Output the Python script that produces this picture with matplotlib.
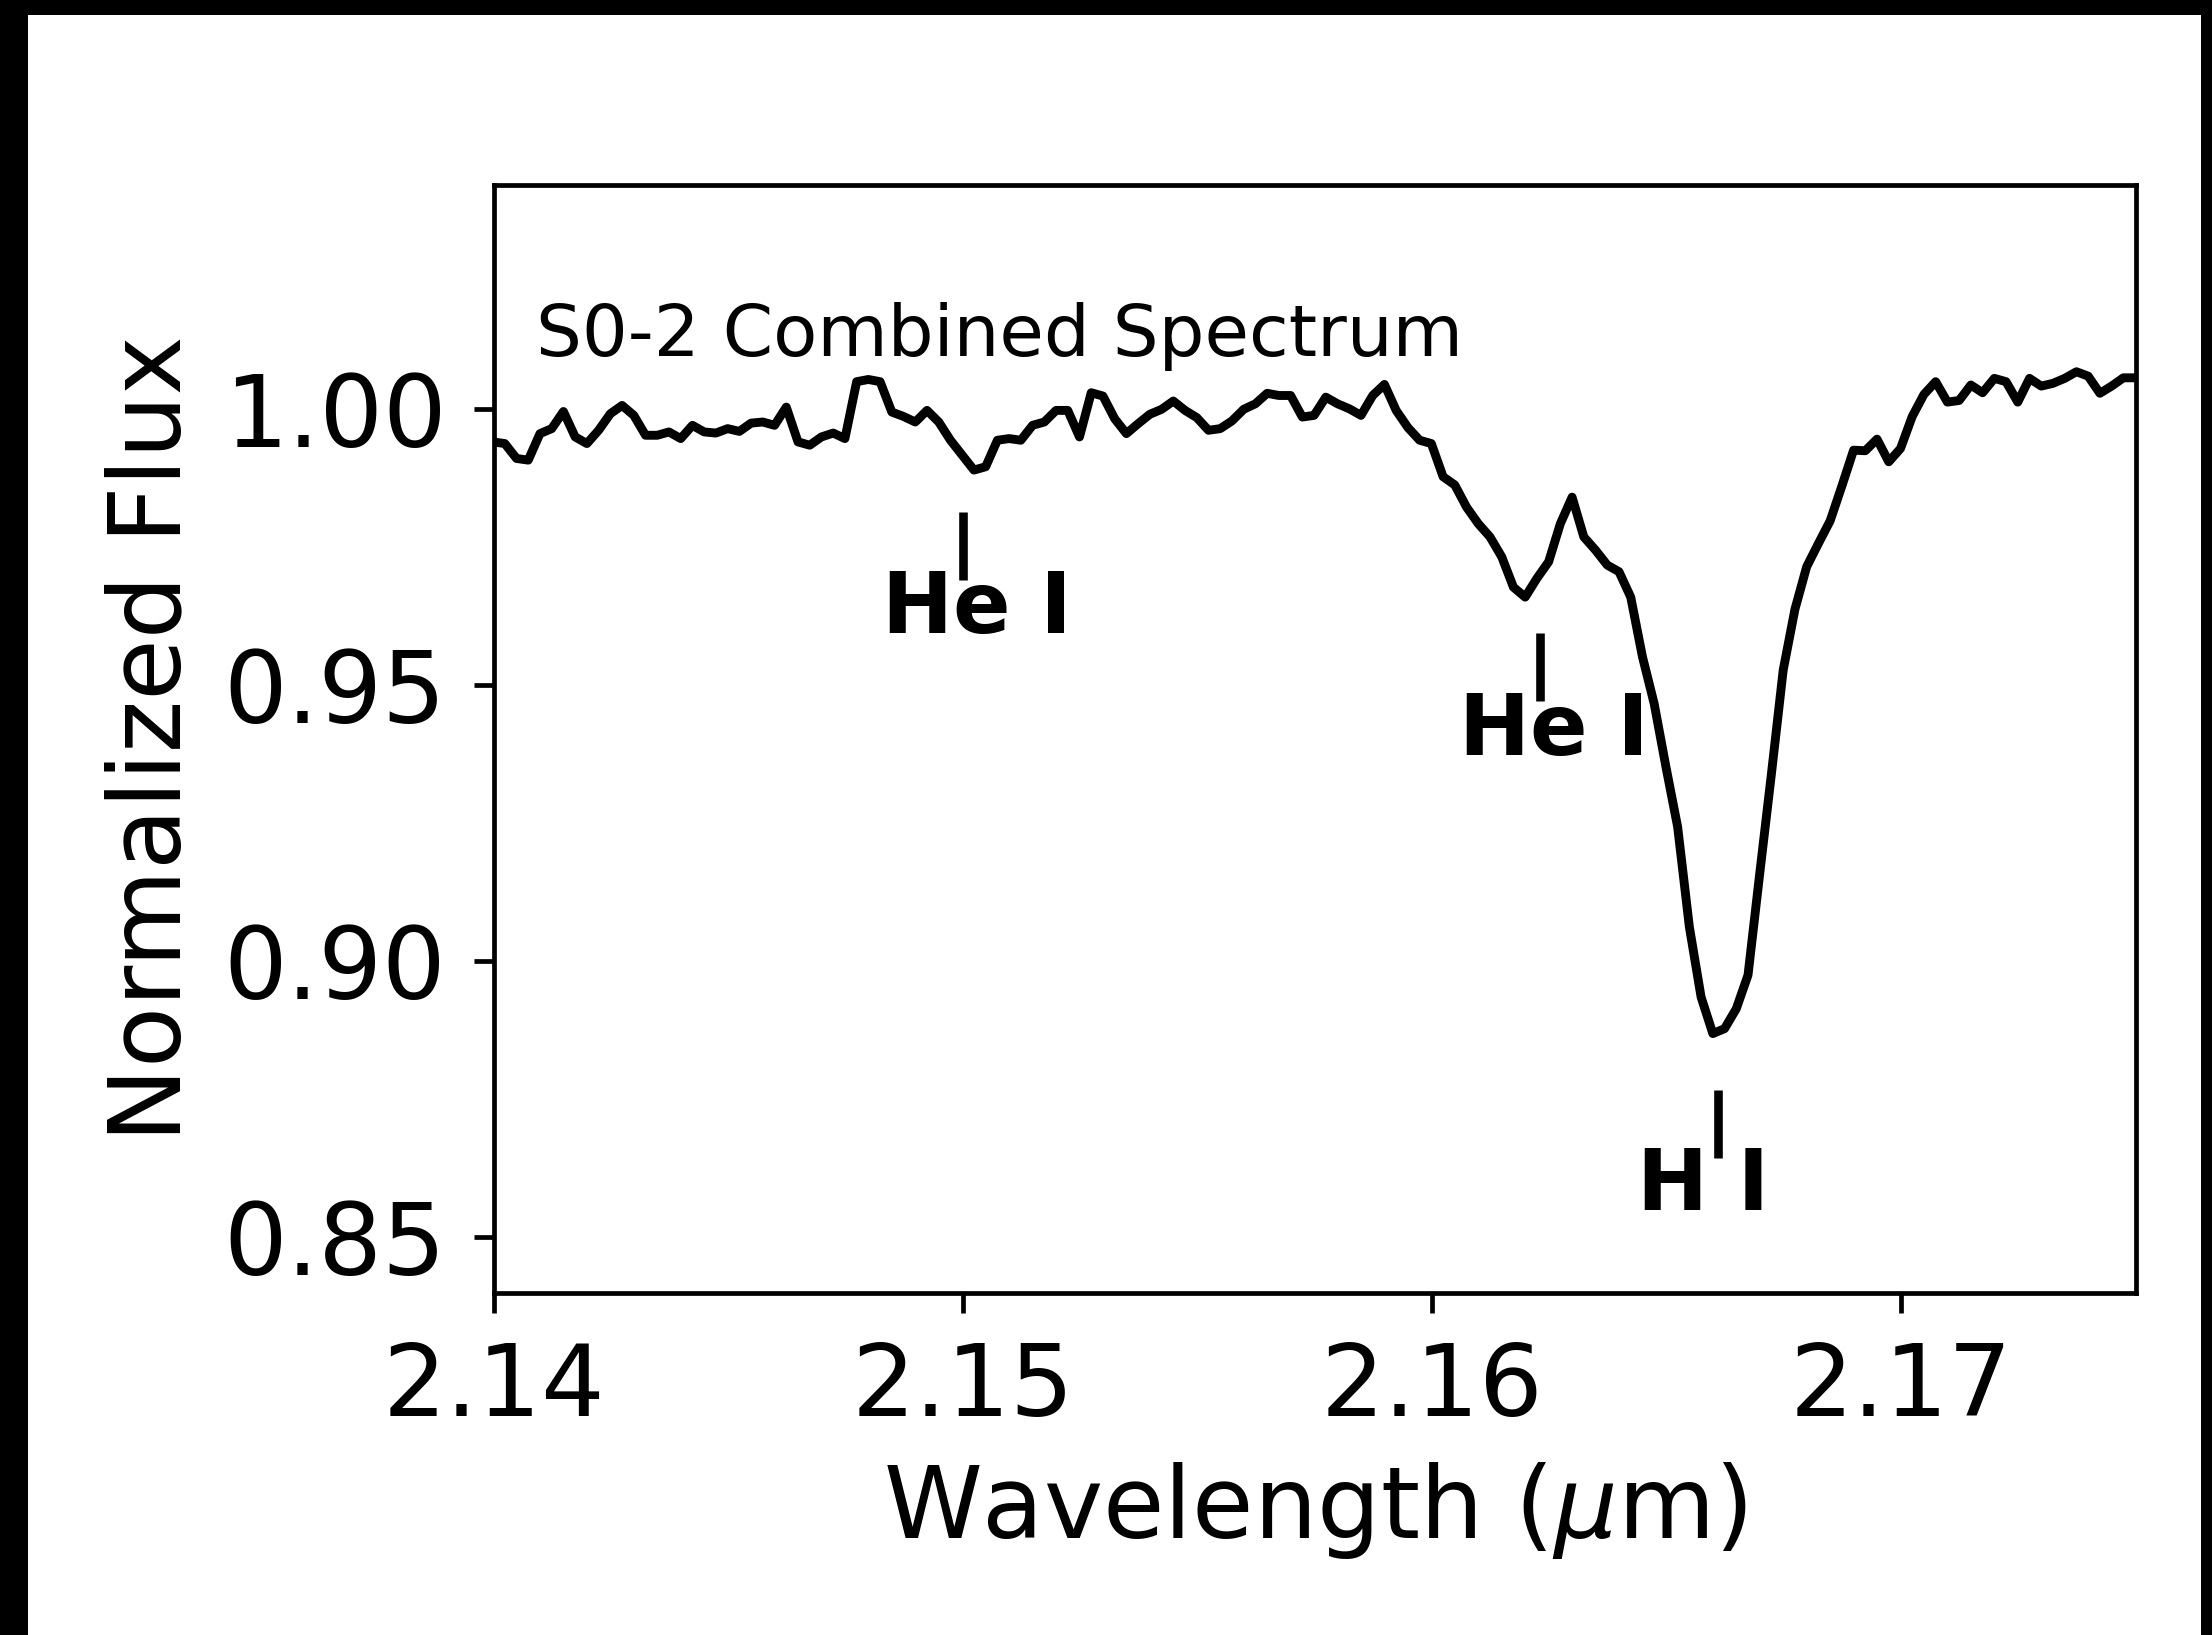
import numpy as np
import matplotlib
matplotlib.use("Agg")
import matplotlib.pyplot as plt
from matplotlib.patches import Rectangle

# ---- data ----
wave_start = 2.13998   # first channel (micron)
wave_step = 0.00025    # channel width (micron)
flux = [
    0.9940, 0.9937, 0.9910, 0.9907, 0.9955, 0.9964, 0.9995, 0.9949, 0.9937, 0.9961,
    0.9991, 1.0006, 0.9988, 0.9952, 0.9952, 0.9958, 0.9946, 0.9970, 0.9958, 0.9956,
    0.9964, 0.9959, 0.9974, 0.9976, 0.9970, 1.0003, 0.9940, 0.9934, 0.9949, 0.9956,
    0.9946, 1.0049, 1.0053, 1.0049, 0.9994, 0.9986, 0.9976, 0.9997, 0.9976, 0.9943,
    0.9916, 0.9889, 0.9895, 0.9943, 0.9946, 0.9943, 0.9970, 0.9976, 0.9997, 0.9997,
    0.9949, 1.0029, 1.0023, 0.9982, 0.9955, 0.9973, 0.9990, 0.9999, 1.0014, 0.9997,
    0.9984, 0.9961, 0.9964, 0.9978, 0.9999, 1.0009, 1.0028, 1.0024, 1.0024, 0.9985,
    0.9988, 1.0021, 1.0009, 1.0000, 0.9988, 1.0024, 1.0044, 0.9997, 0.9966, 0.9943,
    0.9937, 0.9877, 0.9862, 0.9822, 0.9792, 0.9768, 0.9732, 0.9677, 0.9659, 0.9693,
    0.9723, 0.9792, 0.9840, 0.9768, 0.9744, 0.9717, 0.9705, 0.9659, 0.9551, 0.9466,
    0.9352, 0.9243, 0.9062, 0.8935, 0.8869, 0.8878, 0.8914, 0.8975, 0.9159, 0.9340,
    0.9527, 0.9637, 0.9714, 0.9756, 0.9797, 0.9860, 0.9925, 0.9924, 0.9945, 0.9904,
    0.9928, 0.9986, 1.0026, 1.0049, 1.0012, 1.0015, 1.0043, 1.0029, 1.0055, 1.0049,
    1.0012, 1.0055, 1.0041, 1.0046, 1.0055, 1.0067, 1.0059, 1.0028, 1.0041, 1.0056,
    1.0056,
]
wave = wave_start + wave_step * np.arange(len(flux))

line_names = ["He I", "He I", "H I"]
line_waves = [2.1500, 2.1623, 2.1661]
mark_tops = [0.9813, 0.9594, 0.8767]
label_baselines = [0.9594, 0.9374, 0.8549]

title_text = "S0-2 Combined Spectrum"
xticks = [2.14, 2.15, 2.16, 2.17]
yticks = [0.85, 0.90, 0.95, 1.00]

# ---- figure ----
W, H, DPI = 2212, 1635, 400
fig = plt.figure(figsize=(W / DPI, H / DPI), dpi=DPI)
fig.patch.set_facecolor("black")
bg = Rectangle((27.5 / W, 0), (2201 - 27.5) / W, 1 - 15 / H,
               transform=fig.transFigure, facecolor="white",
               edgecolor="none", zorder=-10)
fig.add_artist(bg)

ax = fig.add_axes([494 / W, 1 - 1292.7 / H, (2136 - 494) / W, (1292.7 - 185) / H])
ax.set_zorder(5)
ax.plot(wave, flux, color="black", lw=1.6)

mark_len = 0.0123
for name, w, top, base in zip(line_names, line_waves, mark_tops, label_baselines):
    ax.plot([w, w], [top, top - mark_len], color="black", lw=1.55,
            solid_capstyle="butt")
    ax.text(w - 0.00174, base, name, fontsize=15.3, fontweight="bold",
            ha="left", va="baseline")

ax.text(2.1409, 1.0096, title_text, fontsize=13, ha="left", va="baseline")

ax.set_xlim(2.14, 2.175)
ax.set_ylim(0.84, 1.0405)
ax.set_xticks(xticks)
ax.set_yticks(yticks)
ax.set_xticklabels([f"{t:.2f}" for t in xticks])
ax.set_yticklabels([f"{t:.2f}" for t in yticks])
ax.tick_params(labelsize=18, length=3.6, width=0.85, pad=5)
for sp in ax.spines.values():
    sp.set_linewidth(0.85)

ax.set_xlabel(r"Wavelength ($\mu$m)", fontsize=18)
ax.set_ylabel("Normalized Flux", fontsize=18)

fig.savefig("out.png", dpi=DPI, facecolor=fig.get_facecolor())
